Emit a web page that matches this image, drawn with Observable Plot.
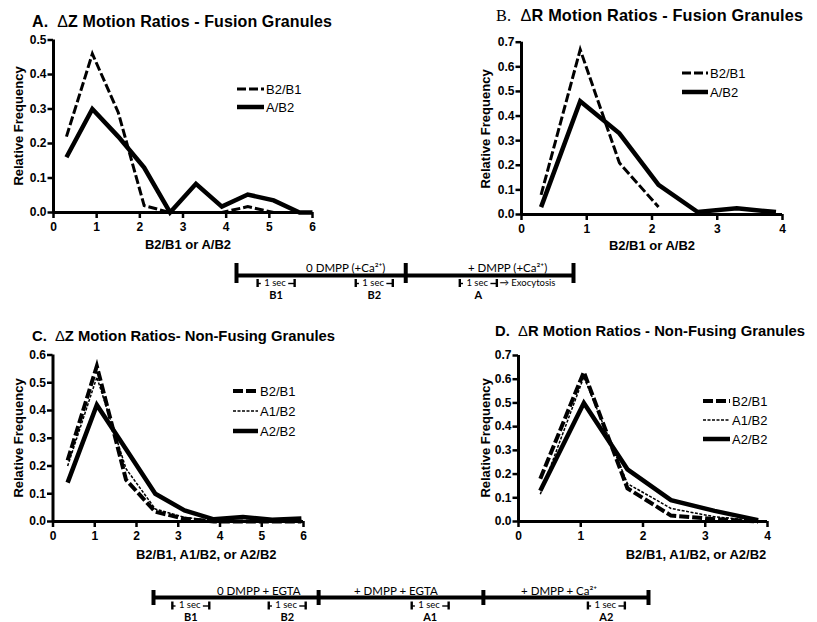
<!DOCTYPE html>
<html><head><meta charset="utf-8">
<script src="https://cdn.jsdelivr.net/npm/d3@7"></script>
<script src="https://cdn.jsdelivr.net/npm/@observablehq/plot@0.6"></script>
<style>
html,body{margin:0;padding:0;background:#fff;}
#fig{position:relative;width:817px;height:622px;overflow:hidden;background:#fff;font-family:"Liberation Sans",Arial,sans-serif;}
.abs{position:absolute;}
</style></head><body><div id="fig"></div>
<script>
// ---------- Panel A: ΔZ fusion granules ----------
const aBins   = [0.3, 0.9, 1.5, 2.1, 2.7, 3.3, 3.9, 4.5, 5.1, 5.7, 6.0];
const aB2B1   = [0.22, 0.46, 0.29, 0.02, 0, 0, 0, 0.017, 0, 0, 0];
const aAB2    = [0.16, 0.30, 0.22, 0.13, 0, 0.083, 0.017, 0.052, 0.035, 0, 0];
// ---------- Panel B: ΔR fusion granules ----------
const bBinsB2B1 = [0.3, 0.9, 1.5, 2.1];
const bB2B1     = [0.08, 0.67, 0.21, 0.03];
const bBinsAB2  = [0.3, 0.9, 1.5, 2.1, 2.7, 3.3, 3.9];
const bAB2      = [0.03, 0.46, 0.33, 0.12, 0.01, 0.025, 0.01];
// ---------- Panel C: ΔZ non-fusing granules ----------
const cBins   = [0.35, 1.05, 1.75, 2.45, 3.15, 3.85, 4.55, 5.25, 5.95];
const cB2B1   = [0.22, 0.56, 0.15, 0.035, 0.01, 0, 0, 0, 0];
const cA1B2   = [0.20, 0.52, 0.19, 0.045, 0.015, 0.003, 0, 0, 0];
const cA2B2   = [0.14, 0.42, 0.26, 0.10, 0.04, 0.008, 0.016, 0.006, 0.011];
// ---------- Panel D: ΔR non-fusing granules ----------
const dBins   = [0.35, 1.05, 1.75, 2.45, 3.15, 3.85];
const dB2B1   = [0.18, 0.63, 0.14, 0.025, 0.01, 0];
const dA1B2   = [0.115, 0.61, 0.16, 0.055, 0.02, 0.003];
const dA2B2   = [0.13, 0.50, 0.22, 0.09, 0.045, 0.006];
// ---------- axis ticks ----------
const ticks6 = [0, 1, 2, 3, 4, 5, 6];
const ticks4 = [0, 1, 2, 3, 4];
const yTicks05 = [0, 0.1, 0.2, 0.3, 0.4, 0.5];
const yTicks06 = [0, 0.1, 0.2, 0.3, 0.4, 0.5, 0.6];
const yTicks07 = [0, 0.1, 0.2, 0.3, 0.4, 0.5, 0.6, 0.7];
// ---------- timelines (seconds) ----------
const t1Bounds = [0, 4.57, 9.1];
const t1Phases = [{label: "0 DMPP (+Ca²⁺)", at: 2.95}, {label: "+ DMPP (+Ca²⁺)", at: 7.32}];
const t1Windows = [{label: "B1", start: 0.57}, {label: "B2", start: 3.22}, {label: "A", start: 6.03}];
const t1Note = [{label: "→ Exocytosis", at: 7.1}];
const t2Bounds = [0, 4.47, 8.93, 13.4];
const t2Phases = [{label: "0 DMPP + EGTA", at: 2.85}, {label: "+ DMPP + EGTA", at: 6.56}, {label: "+ DMPP + Ca²⁺", at: 10.98}];
const t2Windows = [{label: "B1", start: 0.51}, {label: "B2", start: 3.12}, {label: "A1", start: 6.99}, {label: "A2", start: 11.76}];

const STY = {
  dashAB: {w: 3, dash: "9,3"},
  solid: {w: 4.5, dash: null},
  longDash: {w: 4, dash: "10,3"},
  dotted: {w: 1.5, dash: "3,1.5"}
};

const fig = document.getElementById("fig");
const FONT = '"Liberation Sans", Arial, sans-serif';

function tbl(xs, ys) { return xs.map((x, i) => ({x, y: ys[i]})); }

function panel(cfg) {
  const [sx, sy, sw, sh] = cfg.box;
  const [fx0, fy0, fx1, fy1] = cfg.frame;
  const marks = [];
  for (const s of cfg.series) {
    marks.push(Plot.line(tbl(s.x, s.y), {
      x: "x", y: "y", stroke: "black", strokeWidth: s.style.w,
      strokeDasharray: s.style.dash || undefined,
      strokeLinejoin: "miter", strokeMiterlimit: 10, strokeLinecap: "butt"
    }));
  }
  marks.push(Plot.ruleY([cfg.yDomain[0]], {strokeWidth: 3, stroke: "black"}));
  marks.push(Plot.ruleX([cfg.xDomain[0]], {strokeWidth: 3, stroke: "black"}));
  marks.push(Plot.axisX({ticks: cfg.xTicks, tickSize: 6, tickPadding: 4, strokeWidth: 2.5, fontSize: 12, fontWeight: "bold", tickFormat: d3.format("d"), label: null}));
  marks.push(Plot.axisY({ticks: cfg.yTicks, tickSize: 5.5, tickPadding: 1.5, strokeWidth: 2.5, fontSize: 12, fontWeight: "bold", tickFormat: d3.format(".1f"), label: null}));
  marks.push(Plot.text([cfg.xLabel], {text: d => d, frameAnchor: "bottom", dy: cfg.xLabelDy, dx: cfg.xLabelDx, fontSize: 13, fontWeight: "bold"}));
  const svg = Plot.plot({
    width: sw, height: sh,
    marginLeft: fx0 - sx, marginTop: fy0 - sy, marginRight: sx + sw - fx1, marginBottom: sy + sh - fy1,
    x: {domain: cfg.xDomain, label: null},
    y: {domain: cfg.yDomain, label: null},
    style: {fontFamily: FONT, color: "black", background: "transparent", overflow: "visible", maxWidth: "none"},
    marks
  });
  const div = document.createElement("div");
  div.className = "abs";
  div.style.left = sx + "px"; div.style.top = sy + "px";
  div.appendChild(svg);
  fig.appendChild(div);
}

panel({
  box: [0, 30, 340, 230], frame: [53, 39.5, 312, 212],
  xDomain: [0, 6], xTicks: ticks6, yDomain: [0, 0.5], yTicks: yTicks05,
  series: [{x: aBins, y: aAB2, style: STY.solid}, {x: aBins, y: aB2B1, style: STY.dashAB}],
  xLabel: "B2/B1 or A/B2", xLabelDx: 5, xLabelDy: 36
});
panel({
  box: [470, 30, 347, 230], frame: [521, 41.7, 782, 214],
  xDomain: [0, 4], xTicks: ticks4, yDomain: [0, 0.7], yTicks: yTicks07,
  series: [{x: bBinsAB2, y: bAB2, style: STY.solid}, {x: bBinsB2B1, y: bB2B1, style: STY.dashAB}],
  xLabel: "B2/B1 or A/B2", xLabelDx: 0, xLabelDy: 35
});
panel({
  box: [0, 345, 340, 225], frame: [52.5, 354.5, 303, 521],
  xDomain: [0, 6], xTicks: ticks6, yDomain: [0, 0.6], yTicks: yTicks06,
  series: [{x: cBins, y: cA2B2, style: STY.solid}, {x: cBins, y: cB2B1, style: STY.longDash}, {x: cBins, y: cA1B2, style: STY.dotted}],
  xLabel: "B2/B1, A1/B2, or A2/B2", xLabelDx: 28, xLabelDy: 37
});
panel({
  box: [470, 345, 347, 225], frame: [518, 355, 767, 521],
  xDomain: [0, 4], xTicks: ticks4, yDomain: [0, 0.7], yTicks: yTicks07,
  series: [{x: dBins, y: dA2B2, style: STY.solid}, {x: dBins, y: dB2B1, style: STY.longDash}, {x: dBins, y: dA1B2, style: STY.dotted}],
  xLabel: "B2/B1, A1/B2, or A2/B2", xLabelDx: 53, xLabelDy: 37
});

// ---------- timelines ----------
function timeline(cfg) {
  const [sx, sy, sw, sh] = cfg.box;
  const total = cfg.bounds[cfg.bounds.length - 1];
  const Y = cfg.rows;
  const TF = '"Lato", "Open Sans", sans-serif';
  const marks = [
    Plot.ruleY([0], {x1: 0, x2: total, y: Y.main, strokeWidth: 4, stroke: "black"}),
    Plot.ruleX(cfg.bounds, {x: d => d, y1: Y.capTop, y2: Y.capBot, strokeWidth: 4, stroke: "black"}),
    Plot.text(cfg.phases, {x: "at", y: Y.phase, text: "label", lineAnchor: "bottom", fontSize: 11.5, fontFamily: TF}),
    Plot.ruleX(cfg.windows, {x: "start", y1: Y.br - 4, y2: Y.br + 4, strokeWidth: 2.4, stroke: "black"}),
    Plot.ruleX(cfg.windows, {x: d => d.start + 1, y1: Y.br - 4, y2: Y.br + 4, strokeWidth: 2.4, stroke: "black"}),
    Plot.ruleY(cfg.windows, {x1: "start", x2: d => d.start + 0.1, y: Y.br, strokeWidth: 1.4, stroke: "black"}),
    Plot.ruleY(cfg.windows, {x1: d => d.start + 0.84, x2: d => d.start + 1, y: Y.br, strokeWidth: 1.4, stroke: "black"}),
    Plot.text(cfg.windows, {x: d => d.start + 0.47, y: Y.sec, text: () => "1 sec", fontSize: 9.5, fontFamily: TF}),
    Plot.text(cfg.windows, {x: d => d.start + 0.5, y: Y.lab, text: "label", fontSize: 11, fontWeight: "bold", fontFamily: TF})
  ];
  if (cfg.notes) marks.push(Plot.text(cfg.notes, {x: "at", y: Y.sec, text: "label", textAnchor: "start", fontSize: 9.5, fontFamily: TF}));
  const svg = Plot.plot({
    width: sw, height: sh, marginLeft: 10, marginRight: 10, marginTop: 0, marginBottom: 0,
    x: {domain: [0, total], axis: null},
    y: {domain: [0, sh], range: [0, sh], axis: null},
    style: {color: "black", background: "transparent", overflow: "visible", maxWidth: "none"},
    marks
  });
  const div = document.createElement("div");
  div.className = "abs";
  div.style.left = sx + "px"; div.style.top = sy + "px";
  div.appendChild(svg);
  fig.appendChild(div);
}
timeline({box: [226, 255, 357, 45], bounds: t1Bounds, phases: t1Phases, windows: t1Windows, notes: t1Note,
  rows: {main: 20, capTop: 8, capBot: 28, phase: 16, br: 28, sec: 27, lab: 39.8}});
timeline({box: [143, 580, 515, 42], bounds: t2Bounds, phases: t2Phases, windows: t2Windows,
  rows: {main: 17, capTop: 10, capBot: 25, phase: 14.5, br: 25.5, sec: 24.3, lab: 36.8}});

// ---------- titles, y labels & legends (overlay) ----------
const titles = [
  {x: 32, y: 26.5, size: 16, len: 300, lead: "A.", leadSerif: false, sym: "Z", rest: " Motion Ratios - Fusion Granules"},
  {x: 496, y: 21, size: 16.3, len: 307, lead: "B.", leadSerif: true, sym: "R", rest: " Motion Ratios - Fusion Granules"},
  {x: 32, y: 341, size: 14.8, len: 303, lead: "C.", leadSerif: false, sym: "Z", rest: " Motion Ratios- Non-Fusing Granules"},
  {x: 495, y: 336, size: 14.8, len: 310, lead: "D.", leadSerif: false, sym: "R", rest: " Motion Ratios - Non-Fusing Granules"}
];
const yLabels = [
  {x: 18, y: 126, text: "Relative Frequency"},
  {x: 485, y: 129, text: "Relative Frequency"},
  {x: 18, y: 438, text: "Relative Frequency"},
  {x: 485, y: 438, text: "Relative Frequency"}
];
const legends = [
  {x1: 237, x2: 264, rows: [89, 107], names: ["B2/B1", "A/B2"], styles: [STY.dashAB, STY.solid]},
  {x1: 682, x2: 708, rows: [73, 92], names: ["B2/B1", "A/B2"], styles: [STY.dashAB, STY.solid]},
  {x1: 233, x2: 258, rows: [391, 411, 431], names: ["B2/B1", "A1/B2", "A2/B2"], styles: [STY.longDash, STY.dotted, STY.solid]},
  {x1: 703, x2: 730, rows: [401, 420, 439], names: ["B2/B1", "A1/B2", "A2/B2"], styles: [STY.longDash, STY.dotted, STY.solid]}
];
const ov = d3.select(fig).append("svg").attr("class", "abs")
  .attr("width", 817).attr("height", 622).style("left", "0px").style("top", "0px")
  .style("pointer-events", "none").attr("font-family", FONT);
for (const t of titles) {
  const tx = ov.append("text").attr("x", t.x).attr("y", t.y).attr("font-size", t.size).attr("font-weight", "bold")
    .attr("xml:space", "preserve").attr("textLength", t.len).attr("lengthAdjust", "spacing");
  tx.append("tspan").text(t.lead)
    .attr("font-family", t.leadSerif ? '"Liberation Serif", serif' : null)
    .attr("font-weight", t.leadSerif ? "normal" : null);
  tx.append("tspan").text("  ");
  tx.append("tspan").text("Δ").attr("font-weight", "normal");
  tx.append("tspan").text(t.sym + t.rest);
}
for (const l of yLabels) {
  ov.append("text").attr("transform", `translate(${l.x},${l.y}) rotate(-90)`)
    .attr("text-anchor", "middle").attr("dominant-baseline", "central")
    .attr("font-size", 13).attr("font-weight", "bold").text(l.text);
}
for (const L of legends) {
  L.rows.forEach((y, i) => {
    const s = L.styles[i];
    ov.append("line").attr("x1", L.x1).attr("x2", L.x2).attr("y1", y).attr("y2", y)
      .attr("stroke", "black").attr("stroke-width", s.w).attr("stroke-dasharray", s.dash);
    ov.append("text").attr("x", L.x2 + 2).attr("y", y).attr("dominant-baseline", "central")
      .attr("font-size", 13).text(L.names[i]);
  });
}
</script></body></html>
